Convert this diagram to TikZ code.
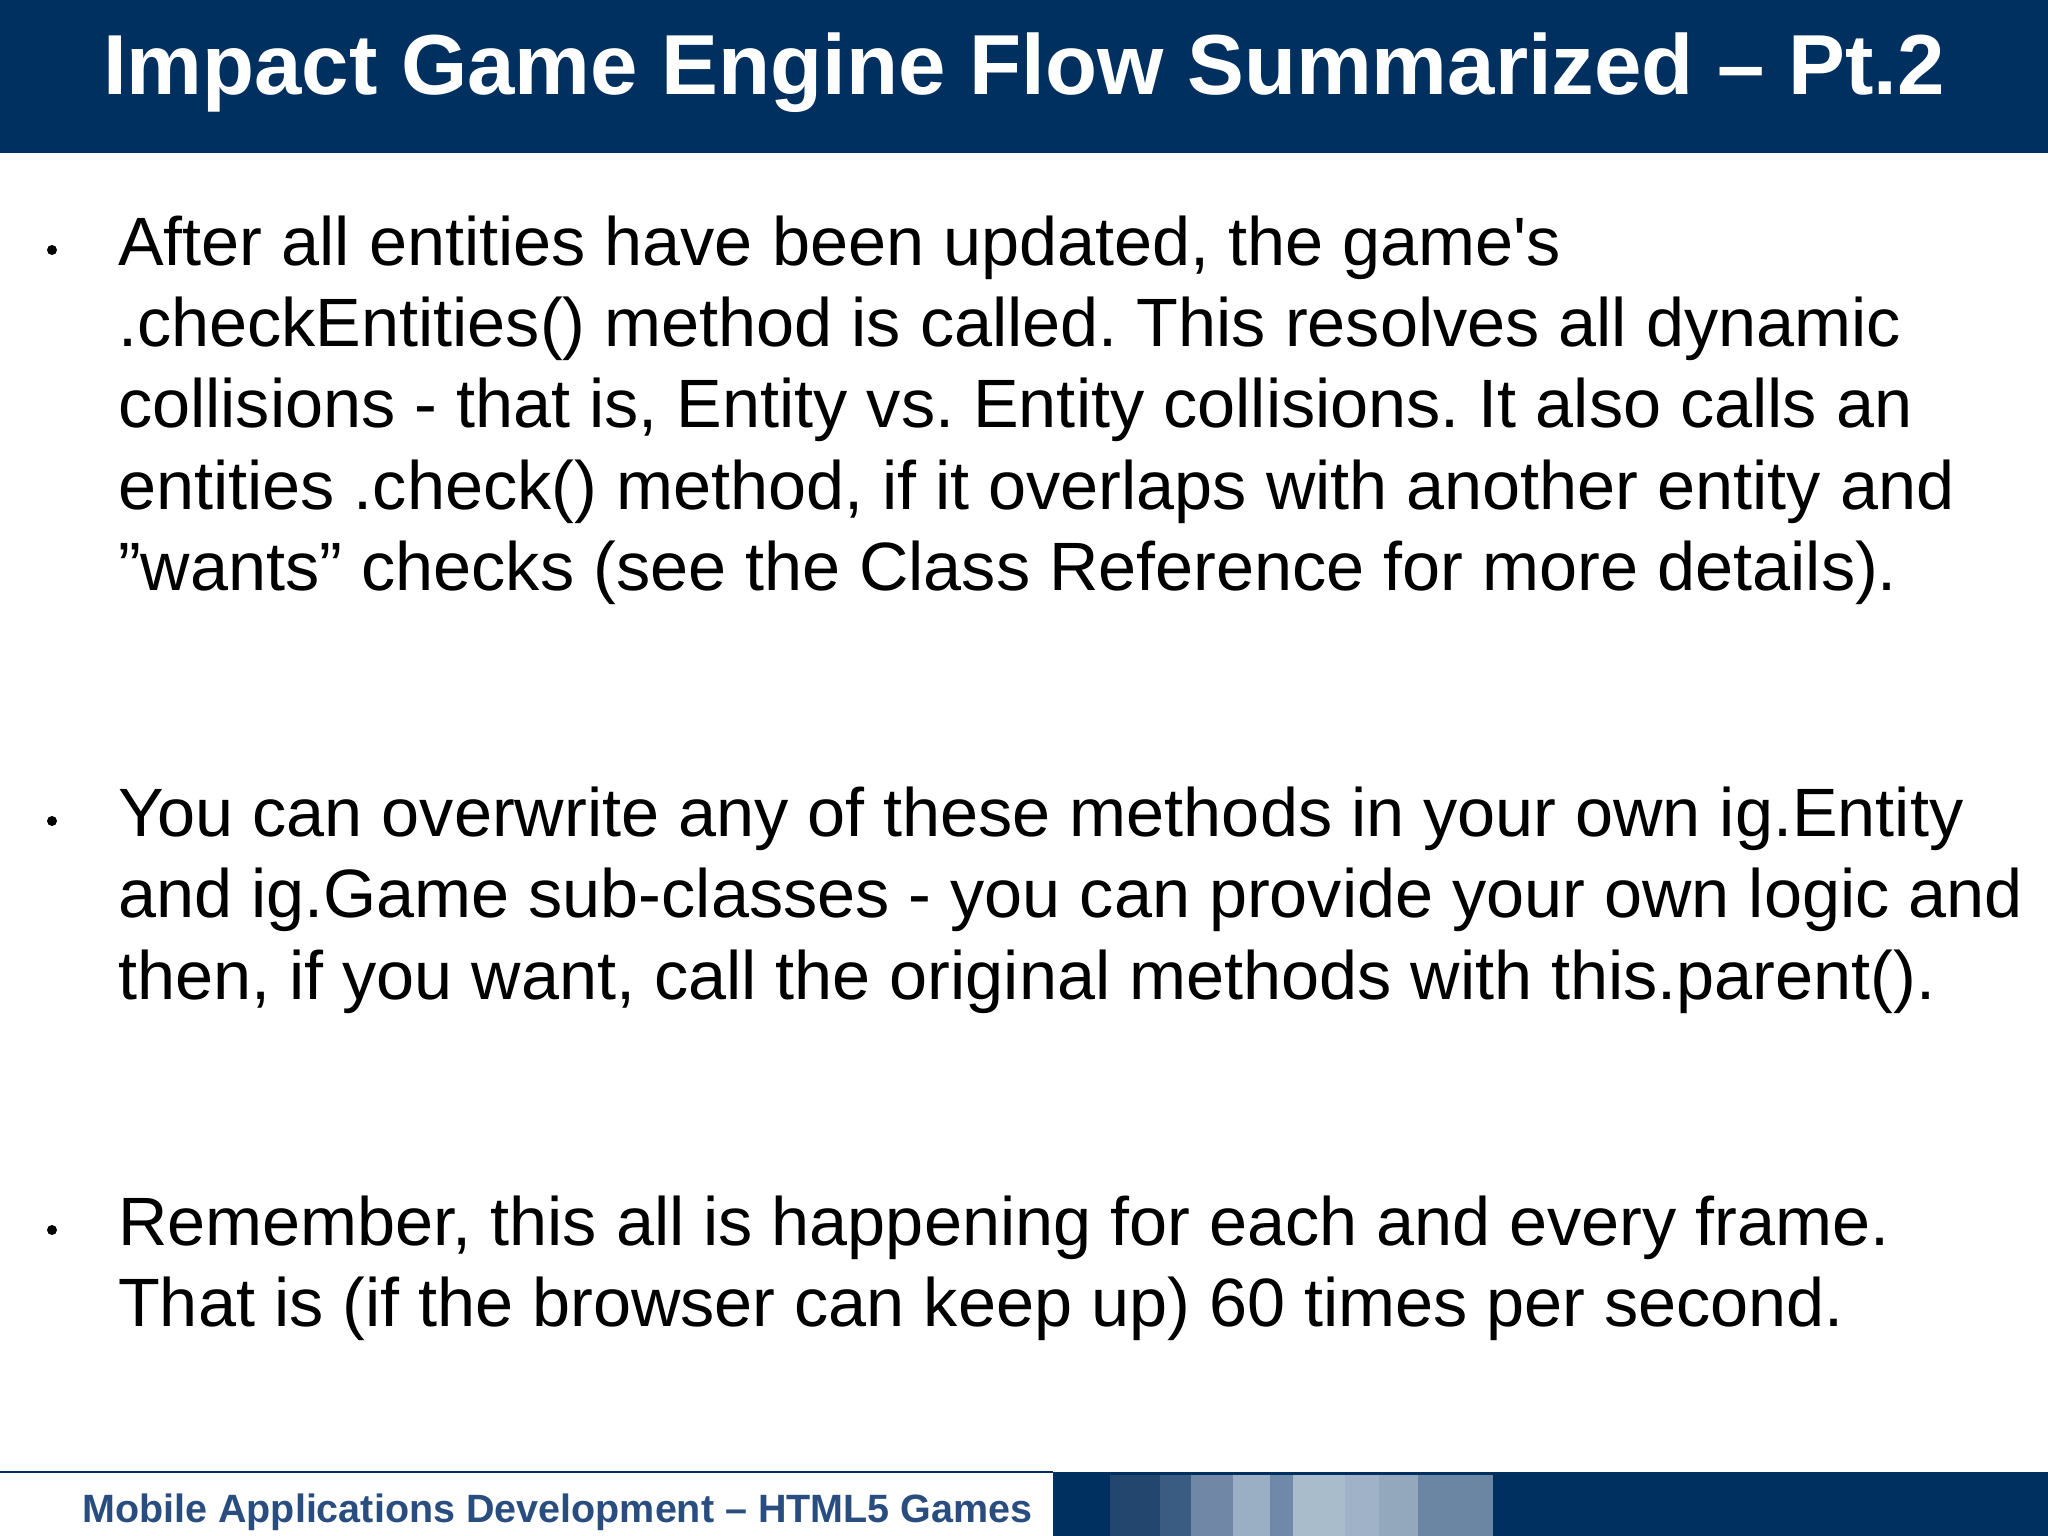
\documentclass[tikz,border=0pt]{standalone}
\usepackage{fontspec}
\setmainfont{Liberation Sans}
\frenchspacing
\definecolor{navy}{HTML}{00305F}
\definecolor{foot}{HTML}{2A4D80}
\definecolor{s1}{HTML}{23466F}
\definecolor{s2}{HTML}{3A5C82}
\definecolor{s3}{HTML}{7088A6}
\definecolor{s4}{HTML}{9AAEC4}
\definecolor{s5}{HTML}{6F8AA8}
\definecolor{s6}{HTML}{A9BCCB}
\definecolor{s7}{HTML}{9FB2C8}
\definecolor{s8}{HTML}{93A8BD}
\definecolor{s9}{HTML}{6A86A3}
\tikzset{x=1pt,y=-1pt,
 body/.style={anchor=base west,inner sep=0pt,font=\fontsize{68.4}{76}\selectfont},
 bul/.style={circle,fill=black,inner sep=0pt,minimum size=10pt}}
\begin{document}
\begin{tikzpicture}
\useasboundingbox (0,0) rectangle (2048,1536);
\fill[white] (0,0) rectangle (2048,1536);
\fill[navy] (0,0) rectangle (2048,153);
\node[text=white,font=\fontsize{85.2}{90}\bfseries\selectfont,anchor=base] (title) at (1024,95) {Impact Game Engine Flow Summarized -- Pt.2};
% bullets
\node[bul] (b1) at (52,250) {};
\node[bul] (b2) at (52,821) {};
\node[bul] (b3) at (52,1230) {};
\node[body] (l1) at (118,265) {After all entities have been updated, the game\textquotesingle s};
\node[body] (l2) at (118,346) {.checkEntities() method is called. This resolves all dynamic};
\node[body] (l3) at (118,427) {collisions - that is, Entity vs. Entity collisions. It also calls an};
\node[body] (l4) at (118,509) {entities .check() method, if it overlaps with another entity and};
\node[body] (l5) at (118,590) {\char34 wants\char34\ checks (see the Class Reference for more details).};
\node[body] (m1) at (118,836) {You can overwrite any of these methods in your own ig.Entity};
\node[body] (m2) at (118,917) {and ig.Game sub-classes - you can provide your own logic and};
\node[body] (m3) at (118,999) {then, if you want, call the original methods with this.parent().};
\node[body] (n1) at (118,1245) {Remember, this all is happening for each and every frame.};
\node[body] (n2) at (118,1326) {That is (if the browser can keep up) 60 times per second.};
% footer
\draw[navy,line width=2pt] (0,1472) -- (1053,1472);
\fill[navy] (1053,1472) rectangle (2048,1536);
\foreach \a/\b/\c in {1110/1160/s1,1160/1191/s2,1191/1233/s3,1233/1270/s4,1270/1293/s5,1293/1345/s6,1345/1379/s7,1379/1418/s8,1418/1493/s9}
  \fill[\c] (\a,1475) rectangle (\b,1536);
\node[text=foot,font=\fontsize{39.5}{42}\bfseries\selectfont,anchor=base west,inner sep=0pt] (foot) at (82,1522) {Mobile Applications Development -- HTML5 Games};
\end{tikzpicture}
\end{document}
